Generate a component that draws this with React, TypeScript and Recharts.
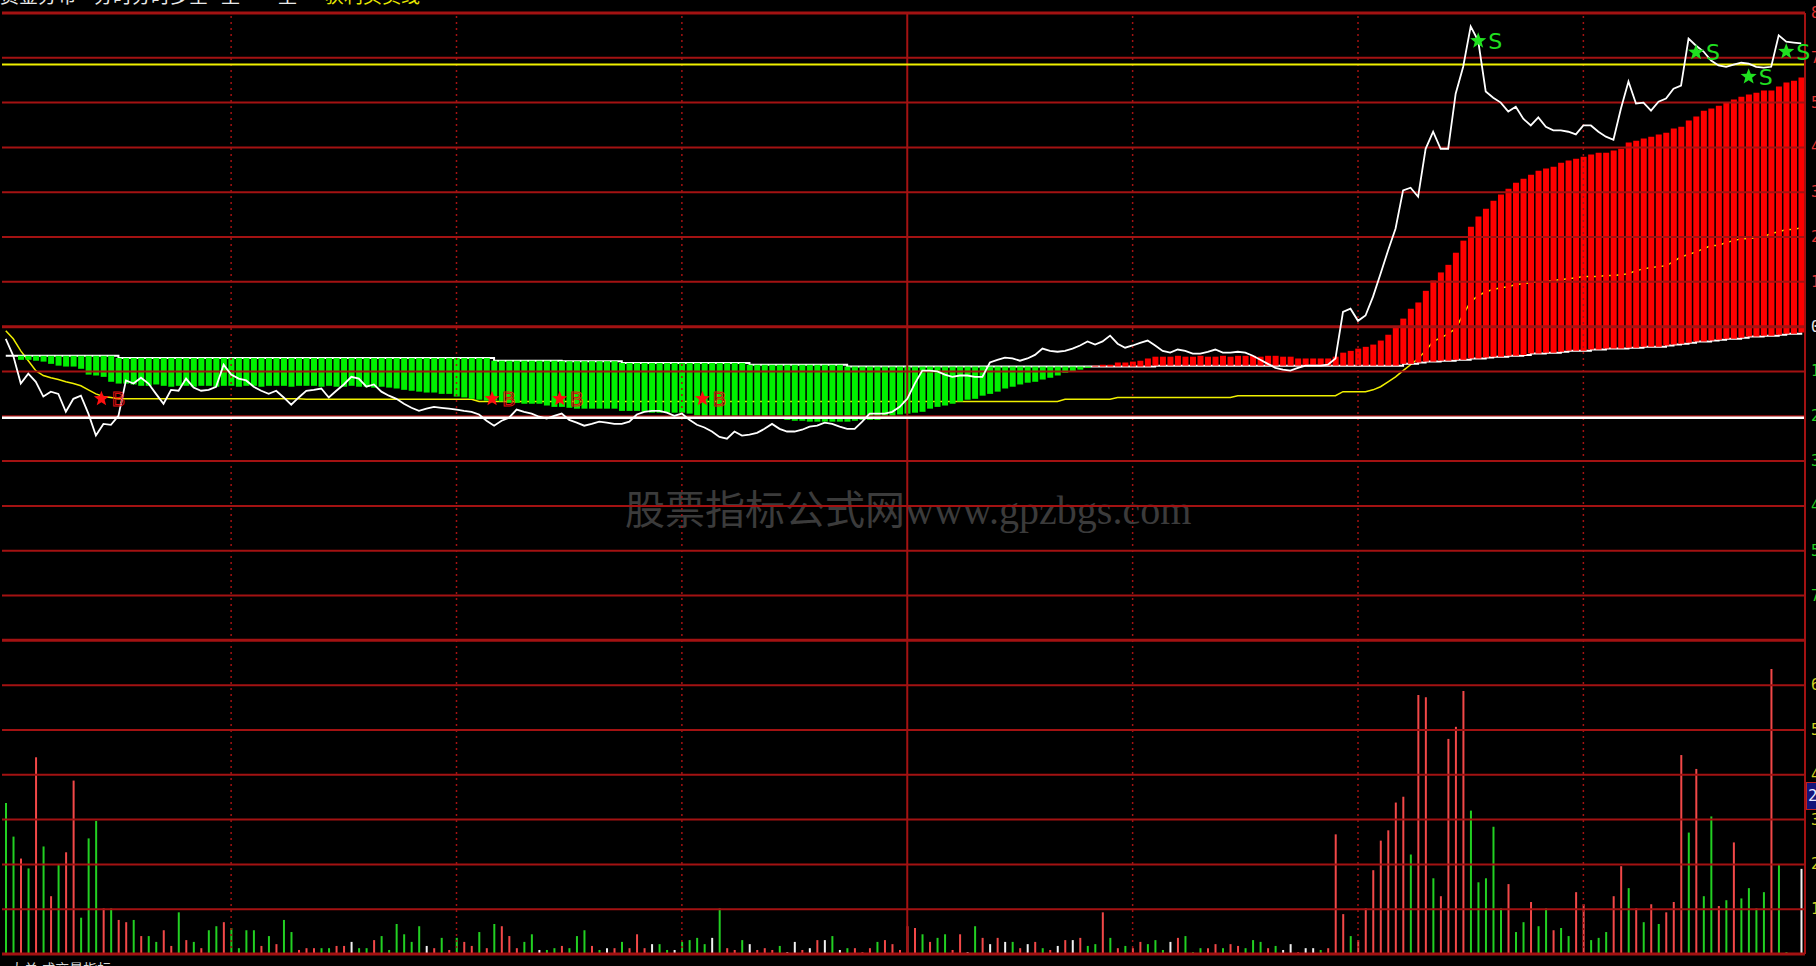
import React from "react";
import { ComposedChart, Bar, Line, XAxis, YAxis, ReferenceLine, Cell } from "recharts";

// minute-by-minute values, 240 minutes. price axis unit = one grid row, 0 = previous close
const price = [
  -0.27, -0.65, -1.27, -1.05, -1.23, -1.56, -1.45, -1.5, -1.9, -1.61,
  -1.54, -1.94, -2.43, -2.17, -2.19, -1.99, -1.2, -1.27, -1.14, -1.27,
  -1.5, -1.72, -1.41, -1.43, -1.16, -1.36, -1.43, -1.41, -1.34, -0.85,
  -1.07, -1.16, -1.2, -1.34, -1.43, -1.5, -1.43, -1.58, -1.74, -1.58,
  -1.43, -1.41, -1.38, -1.58, -1.43, -1.29, -1.12, -1.16, -1.34, -1.29,
  -1.45, -1.54, -1.61, -1.72, -1.81, -1.88, -1.83, -1.79, -1.81, -1.83,
  -1.85, -1.88, -1.9, -1.96, -2.1, -2.21, -2.1, -2.03, -1.85, -1.9,
  -1.94, -2.01, -2.05, -1.99, -1.94, -2.08, -2.14, -2.21, -2.17, -2.12,
  -2.14, -2.17, -2.17, -2.12, -1.96, -1.9, -1.88, -1.88, -1.92, -1.99,
  -1.94, -2.08, -2.19, -2.25, -2.34, -2.46, -2.5, -2.34, -2.43, -2.41,
  -2.37, -2.28, -2.17, -2.28, -2.34, -2.34, -2.3, -2.23, -2.21, -2.14,
  -2.17, -2.23, -2.28, -2.28, -2.12, -1.94, -1.94, -1.94, -1.9, -1.79,
  -1.61, -1.27, -0.98, -0.98, -1.0, -1.07, -1.12, -1.09, -1.09, -1.12,
  -1.12, -0.8, -0.74, -0.69, -0.71, -0.76, -0.71, -0.63, -0.49, -0.54,
  -0.56, -0.54, -0.49, -0.42, -0.33, -0.4, -0.33, -0.2, -0.38, -0.47,
  -0.42, -0.36, -0.31, -0.42, -0.54, -0.58, -0.51, -0.54, -0.6, -0.6,
  -0.56, -0.51, -0.58, -0.58, -0.56, -0.58, -0.65, -0.74, -0.83, -0.92,
  -0.96, -0.98, -0.92, -0.87, -0.87, -0.87, -0.85, -0.71, 0.33, 0.4,
  0.13, 0.25, 0.67, 1.18, 1.7, 2.19, 3.04, 3.1, 2.9, 3.97,
  4.35, 3.97, 3.97, 5.2, 5.8, 6.7, 6.38, 5.25, 5.11, 5.0,
  4.8, 4.91, 4.64, 4.49, 4.67, 4.46, 4.38, 4.38, 4.35, 4.29,
  4.49, 4.49, 4.35, 4.24, 4.17, 4.87, 5.47, 4.98, 5.0, 4.82,
  5.02, 5.09, 5.31, 5.38, 6.43, 6.27, 6.14, 5.94, 5.83, 5.8,
  5.85, 5.89, 5.87, 5.8, 5.78, 5.8, 6.5, 6.36, 6.34, 6.32,
];

const avgPrice = [
  -0.09, -0.27, -0.54, -0.76, -0.98, -1.09, -1.14, -1.18, -1.23, -1.27,
  -1.32, -1.41, -1.5, -1.56, -1.58, -1.61, -1.61, -1.61, -1.61, -1.61,
  -1.61, -1.61, -1.61, -1.61, -1.61, -1.61, -1.61, -1.61, -1.61, -1.61,
  -1.61, -1.61, -1.61, -1.61, -1.61, -1.61, -1.61, -1.61, -1.61, -1.61,
  -1.62, -1.62, -1.62, -1.62, -1.62, -1.62, -1.62, -1.62, -1.62, -1.62,
  -1.62, -1.62, -1.62, -1.62, -1.62, -1.62, -1.62, -1.62, -1.62, -1.62,
  -1.62, -1.62, -1.62, -1.67, -1.67, -1.67, -1.67, -1.67, -1.67, -1.67,
  -1.67, -1.67, -1.67, -1.67, -1.67, -1.67, -1.67, -1.67, -1.67, -1.67,
  -1.67, -1.67, -1.67, -1.67, -1.67, -1.67, -1.67, -1.67, -1.67, -1.67,
  -1.67, -1.67, -1.67, -1.67, -1.67, -1.67, -1.67, -1.67, -1.67, -1.67,
  -1.67, -1.67, -1.67, -1.67, -1.67, -1.67, -1.67, -1.67, -1.67, -1.67,
  -1.67, -1.67, -1.67, -1.67, -1.67, -1.67, -1.67, -1.67, -1.67, -1.67,
  -1.67, -1.67, -1.67, -1.67, -1.67, -1.67, -1.67, -1.67, -1.67, -1.67,
  -1.67, -1.67, -1.67, -1.67, -1.67, -1.67, -1.67, -1.67, -1.67, -1.67,
  -1.67, -1.62, -1.62, -1.62, -1.62, -1.62, -1.62, -1.62, -1.58, -1.58,
  -1.58, -1.58, -1.58, -1.58, -1.58, -1.58, -1.58, -1.58, -1.58, -1.58,
  -1.58, -1.58, -1.58, -1.58, -1.54, -1.54, -1.54, -1.54, -1.54, -1.54,
  -1.54, -1.54, -1.54, -1.54, -1.54, -1.54, -1.54, -1.54, -1.45, -1.45,
  -1.45, -1.45, -1.41, -1.34, -1.23, -1.12, -0.98, -0.85, -0.71, -0.54,
  -0.33, -0.25, -0.16, -0.04, 0.27, 0.56, 0.69, 0.78, 0.83, 0.87,
  0.89, 0.94, 0.96, 0.98, 1.0, 1.0, 1.03, 1.05, 1.07, 1.09,
  1.12, 1.12, 1.12, 1.14, 1.14, 1.16, 1.18, 1.25, 1.29, 1.32,
  1.34, 1.36, 1.45, 1.56, 1.61, 1.67, 1.74, 1.81, 1.81, 1.88,
  1.92, 1.96, 1.96, 1.99, 2.01, 2.08, 2.12, 2.17, 2.17, 2.21,
];

// long/short indicator: bars run from baseLine to signal
const baseLine = [
  -0.65, -0.65, -0.65, -0.65, -0.65, -0.65, -0.65, -0.65, -0.65, -0.65,
  -0.65, -0.65, -0.65, -0.65, -0.65, -0.7, -0.7, -0.7, -0.7, -0.7,
  -0.7, -0.7, -0.7, -0.7, -0.7, -0.7, -0.7, -0.7, -0.7, -0.7,
  -0.7, -0.7, -0.7, -0.7, -0.7, -0.7, -0.7, -0.7, -0.7, -0.7,
  -0.7, -0.7, -0.7, -0.7, -0.7, -0.7, -0.7, -0.7, -0.7, -0.7,
  -0.7, -0.7, -0.7, -0.7, -0.7, -0.7, -0.7, -0.7, -0.7, -0.7,
  -0.7, -0.7, -0.7, -0.7, -0.7, -0.76, -0.76, -0.76, -0.76, -0.76,
  -0.76, -0.76, -0.76, -0.76, -0.77, -0.77, -0.77, -0.77, -0.77, -0.77,
  -0.77, -0.77, -0.81, -0.81, -0.81, -0.81, -0.81, -0.81, -0.81, -0.81,
  -0.81, -0.81, -0.81, -0.81, -0.81, -0.81, -0.81, -0.81, -0.81, -0.85,
  -0.85, -0.85, -0.85, -0.85, -0.85, -0.85, -0.85, -0.85, -0.85, -0.85,
  -0.85, -0.85, -0.89, -0.89, -0.89, -0.89, -0.89, -0.89, -0.89, -0.89,
  -0.89, -0.89, -0.89, -0.89, -0.89, -0.89, -0.89, -0.89, -0.89, -0.89,
  -0.89, -0.89, -0.89, -0.89, -0.89, -0.89, -0.89, -0.89, -0.89, -0.89,
  -0.89, -0.89, -0.89, -0.89, -0.89, -0.89, -0.89, -0.89, -0.89, -0.89,
  -0.89, -0.89, -0.89, -0.87, -0.87, -0.87, -0.87, -0.87, -0.87, -0.87,
  -0.87, -0.87, -0.87, -0.87, -0.87, -0.87, -0.87, -0.87, -0.87, -0.87,
  -0.87, -0.87, -0.87, -0.87, -0.87, -0.87, -0.87, -0.87, -0.87, -0.87,
  -0.87, -0.87, -0.87, -0.87, -0.87, -0.87, -0.83, -0.83, -0.8, -0.78,
  -0.78, -0.76, -0.76, -0.74, -0.74, -0.71, -0.71, -0.69, -0.67, -0.67,
  -0.65, -0.65, -0.63, -0.6, -0.6, -0.58, -0.58, -0.56, -0.54, -0.54,
  -0.54, -0.51, -0.51, -0.49, -0.49, -0.49, -0.47, -0.47, -0.45, -0.45,
  -0.45, -0.42, -0.4, -0.38, -0.36, -0.33, -0.33, -0.31, -0.29, -0.27,
  -0.27, -0.25, -0.22, -0.22, -0.2, -0.2, -0.18, -0.16, -0.16, -0.13,
];

const signal = [
  -0.65, -0.65, -0.74, -0.74, -0.76, -0.78, -0.83, -0.87, -0.89, -0.89,
  -0.94, -1.07, -1.09, -1.12, -1.23, -1.27, -1.27, -1.29, -1.32, -1.32,
  -1.29, -1.32, -1.34, -1.32, -1.32, -1.34, -1.32, -1.32, -1.34, -1.32,
  -1.32, -1.34, -1.32, -1.32, -1.34, -1.32, -1.32, -1.32, -1.34, -1.32,
  -1.32, -1.32, -1.34, -1.32, -1.34, -1.34, -1.32, -1.34, -1.34, -1.36,
  -1.34, -1.36, -1.38, -1.41, -1.43, -1.45, -1.47, -1.47, -1.5, -1.5,
  -1.56, -1.58, -1.61, -1.63, -1.65, -1.65, -1.67, -1.7, -1.7, -1.72,
  -1.72, -1.72, -1.76, -1.79, -1.79, -1.81, -1.83, -1.83, -1.83, -1.83,
  -1.83, -1.83, -1.88, -1.88, -1.88, -1.9, -1.92, -1.92, -1.92, -1.92,
  -1.92, -1.94, -1.99, -1.99, -2.01, -2.01, -2.01, -2.03, -2.03, -2.05,
  -2.05, -2.05, -2.05, -2.05, -2.08, -2.1, -2.1, -2.12, -2.12, -2.12,
  -2.12, -2.12, -2.12, -2.1, -2.08, -2.08, -2.08, -2.05, -2.05, -1.96,
  -1.94, -1.92, -1.9, -1.83, -1.79, -1.76, -1.72, -1.67, -1.63, -1.61,
  -1.54, -1.5, -1.45, -1.38, -1.34, -1.29, -1.25, -1.23, -1.18, -1.14,
  -1.09, -1.03, -1.0, -0.96, -0.92, -0.87, -0.85, -0.85, -0.8, -0.8,
  -0.78, -0.76, -0.71, -0.67, -0.67, -0.67, -0.65, -0.67, -0.67, -0.65,
  -0.67, -0.67, -0.65, -0.67, -0.65, -0.65, -0.65, -0.67, -0.65, -0.65,
  -0.67, -0.67, -0.71, -0.71, -0.71, -0.71, -0.71, -0.67, -0.58, -0.54,
  -0.49, -0.45, -0.4, -0.31, -0.18, 0.0, 0.18, 0.4, 0.54, 0.8,
  1.03, 1.21, 1.38, 1.65, 1.92, 2.23, 2.46, 2.63, 2.81, 2.95,
  3.08, 3.21, 3.3, 3.39, 3.48, 3.53, 3.57, 3.66, 3.71, 3.75,
  3.79, 3.84, 3.88, 3.88, 3.93, 3.97, 4.11, 4.15, 4.2, 4.24,
  4.29, 4.33, 4.42, 4.46, 4.6, 4.69, 4.82, 4.87, 4.93, 5.0,
  5.07, 5.13, 5.18, 5.22, 5.27, 5.27, 5.36, 5.45, 5.49, 5.56,
];

// volume in grid rows of the lower panel, r = up, g = down, w = flat
const volume = [
  3.37, 2.62, 2.13, 1.91, 4.39, 2.4, 1.29, 2.0, 2.27, 3.87,
  0.81, 2.58, 2.97, 1.02, 1.02, 0.76, 0.71, 0.76, 0.4, 0.4,
  0.27, 0.53, 0.18, 0.93, 0.31, 0.27, 0.13, 0.53, 0.62, 0.71,
  0.58, 0.13, 0.53, 0.53, 0.18, 0.4, 0.22, 0.76, 0.49, 0.09,
  0.13, 0.13, 0.13, 0.13, 0.18, 0.18, 0.27, 0.13, 0.13, 0.31,
  0.4, 0.09, 0.67, 0.44, 0.27, 0.62, 0.18, 0.13, 0.36, 0.09,
  0.36, 0.27, 0.18, 0.49, 0.13, 0.67, 0.62, 0.4, 0.13, 0.27,
  0.44, 0.09, 0.09, 0.13, 0.18, 0.13, 0.4, 0.53, 0.18, 0.09,
  0.13, 0.13, 0.27, 0.13, 0.44, 0.13, 0.22, 0.22, 0.09, 0.09,
  0.27, 0.31, 0.36, 0.22, 0.36, 1.02, 0.13, 0.09, 0.31, 0.22,
  0.09, 0.13, 0.09, 0.18, 0.04, 0.27, 0.09, 0.13, 0.31, 0.31,
  0.4, 0.09, 0.13, 0.13, 0.04, 0.13, 0.27, 0.31, 0.22, 0.09,
  0.62, 0.58, 0.44, 0.27, 0.36, 0.44, 0.09, 0.44, 0.04, 0.62,
  0.36, 0.22, 0.36, 0.27, 0.27, 0.13, 0.22, 0.27, 0.13, 0.09,
  0.18, 0.31, 0.31, 0.36, 0.18, 0.22, 0.93, 0.36, 0.13, 0.18,
  0.13, 0.27, 0.22, 0.31, 0.09, 0.27, 0.36, 0.4, 0.04, 0.13,
  0.13, 0.22, 0.13, 0.22, 0.18, 0.13, 0.31, 0.27, 0.13, 0.18,
  0.09, 0.22, 0.04, 0.13, 0.13, 0.09, 0.13, 2.67, 0.89, 0.4,
  0.31, 1.02, 1.87, 2.53, 2.76, 3.38, 3.51, 2.22, 5.78, 5.73,
  1.69, 1.29, 4.8, 5.07, 5.87, 3.2, 1.6, 1.69, 2.84, 1.02,
  1.56, 0.49, 0.71, 1.16, 0.62, 1.02, 0.53, 0.58, 0.4, 1.38,
  1.11, 0.31, 0.36, 0.49, 1.29, 1.96, 1.47, 1.02, 0.71, 1.11,
  0.67, 0.93, 1.16, 4.44, 2.71, 4.13, 1.29, 3.07, 1.07, 1.2,
  2.49, 1.24, 1.47, 1.02, 1.38, 6.36, 2.0, 0.04, 0.02, 1.9,
];

const volSide = [
  "g", "g", "r", "g", "r", "g", "r", "g", "r", "r",
  "g", "g", "g", "r", "g", "r", "r", "g", "r", "g",
  "g", "r", "r", "g", "r", "g", "r", "g", "g", "r",
  "g", "g", "g", "g", "r", "g", "r", "g", "g", "r",
  "r", "r", "g", "g", "r", "r", "w", "g", "g", "r",
  "g", "g", "g", "g", "g", "g", "w", "r", "g", "r",
  "g", "r", "r", "g", "r", "g", "r", "r", "r", "g",
  "g", "w", "g", "g", "r", "g", "g", "g", "r", "g",
  "w", "r", "g", "r", "r", "r", "w", "g", "g", "w",
  "g", "g", "g", "g", "w", "g", "r", "r", "g", "w",
  "r", "r", "r", "g", "w", "w", "r", "w", "r", "w",
  "g", "w", "g", "r", "r", "r", "g", "r", "r", "r",
  "r", "r", "g", "r", "g", "g", "r", "r", "w", "g",
  "r", "w", "r", "w", "g", "r", "w", "r", "g", "r",
  "w", "r", "w", "r", "g", "g", "r", "g", "r", "g",
  "r", "r", "g", "g", "g", "w", "r", "g", "g", "g",
  "r", "r", "g", "r", "r", "g", "g", "g", "r", "g",
  "w", "w", "r", "w", "w", "g", "r", "r", "r", "g",
  "r", "r", "r", "r", "r", "r", "r", "g", "r", "r",
  "g", "r", "r", "r", "r", "g", "g", "g", "g", "g",
  "r", "g", "g", "r", "g", "g", "r", "g", "g", "r",
  "r", "g", "g", "g", "r", "r", "g", "r", "g", "r",
  "g", "r", "r", "r", "g", "r", "g", "g", "r", "g",
  "r", "g", "g", "g", "g", "r", "g", "g", "g", "w",
];

// buy / sell signals (minute index and level)
const buyMinutes = [13, 65, 74, 93];
const buyLevels = [-1.61, -1.61, -1.61, -1.61];
const sellMinutes = [196, 225, 232, 237];
const sellLevels = [6.38, 6.12, 5.58, 6.14];

const resistance = 5.85;
const support = -2.03;

// right axis labels (cut off by the window edge)
const priceTickLabels = ["8.34%", "7.15%", "5.96%", "4.77%", "3.58%", "2.38%", "1.19%", "0.00%", "1.19%", "2.38%", "3.58%", "4.77%", "5.96%", "7.15%", "8.34%"];
const volTickLabels = ["6935", "5944", "4954", "3963", "2972", "1981"];
const gridRows = [7, 6, 5, 4, 3, 2, 1, 0, -1, -2, -3, -4, -5, -6, -7, -8, -9, -10, -11, -12, -13, -14];
const timeMarks = [30, 60, 90, 150, 180, 210];

// title row, only the lower edge shows above the chart
const titleParts = [
  { text: "资金分布", left: 0, color: "#e8e8e8" },
  { text: "分时分时多空", left: 94, color: "#e8e8e8" },
  { text: "主", left: 221, color: "#e8e8e8" },
  { text: "主", left: 278, color: "#e8e8e8" },
  { text: "获利买卖线", left: 325, color: "#e8e800" },
];

const GRID = "#a31212";
const UP = "#ff0000";
const DOWN = "#00f000";
const VOL_COLORS: Record<string, string> = { r: "#f24848", g: "#22d022", w: "#f0f0f0" };

const rows = price.map((p, i) => ({
  i,
  price: p,
  avg: avgPrice[i],
  base: baseLine[i],
  hist: [Math.min(baseLine[i], signal[i]), Math.max(baseLine[i], signal[i])],
  up: signal[i] > baseLine[i],
  vol: volume[i],
  side: volSide[i],
  buy: buyMinutes.includes(i) ? buyLevels[buyMinutes.indexOf(i)] : null,
  sell: sellMinutes.includes(i) ? sellLevels[sellMinutes.indexOf(i)] : null,
}));

function star(cx: number, cy: number, r: number) {
  const pts: string[] = [];
  for (let k = 0; k < 10; k++) {
    const rad = k % 2 === 0 ? r : r * 0.42;
    const a = -Math.PI / 2 + (k * Math.PI) / 5;
    pts.push(`${cx + rad * Math.cos(a)},${cy + rad * Math.sin(a)}`);
  }
  return pts.join(" ");
}

const renderBuy = (p: any) => {
  const { cx, cy, value, index } = p;
  if (value == null || cy == null || isNaN(cy)) return <g key={`b${index}`} />;
  return (
    <g key={`b${index}`}>
      <polygon points={star(cx - 2, cy, 8)} fill="#ff1010" />
      <text x={cx + 8} y={cy + 7} fontSize={20} fill="none" stroke="#e01010" strokeWidth={1} fontFamily="DejaVu Sans">B</text>
    </g>
  );
};

const renderSell = (p: any) => {
  const { cx, cy, value, index } = p;
  if (value == null || cy == null || isNaN(cy)) return <g key={`s${index}`} />;
  return (
    <g key={`s${index}`}>
      <polygon points={star(cx, cy, 8.5)} fill="#20e020" />
      <text x={cx + 10} y={cy + 8} fontSize={22} fill="#20e020" fontFamily="DejaVu Sans">S</text>
    </g>
  );
};

const renderTick = (props: any) => {
  const { x, y, payload } = props;
  const v = payload.value;
  let label = "";
  let color = "#d0d020";
  if (v > -7) {
    label = priceTickLabels[7 - v];
    color = v > 0 ? "#e03030" : v === 0 ? "#e8e8e8" : "#20d020";
  } else if (v < -7 && v > -14) {
    label = volTickLabels[-8 - v];
  }
  return (
    <text x={x} y={y} dy={5} fill={color} fontSize={15} fontFamily="DejaVu Sans Mono">
      {label}
    </text>
  );
};

export default function App() {
  return (
    <div style={{ position: "absolute", left: 0, top: 0, width: 1816, height: 966, background: "#000", overflow: "hidden" }}>
      <div
        style={{
          position: "absolute",
          left: 625,
          top: 478,
          fontSize: 40,
          color: "#3b3b3b",
          fontFamily: "'Liberation Serif', 'Noto Sans CJK SC', serif",
          whiteSpace: "nowrap",
        }}
      >
        股票指标公式网www.gpzbgs.com
      </div>
      <div style={{ position: "absolute", left: 0, top: 0 }}>
        <ComposedChart width={1816} height={966} data={rows} margin={{ top: 13, right: 0, bottom: 12, left: 2 }}>
          <XAxis xAxisId="p" dataKey="i" type="category" hide />
          <XAxis xAxisId="v" dataKey="i" type="category" hide />
          <YAxis
            yAxisId="p"
            orientation="right"
            width={11}
            type="number"
            domain={[-14, 7]}
            allowDataOverflow
            ticks={gridRows}
            interval={0}
            tick={renderTick}
            tickLine={false}
            tickSize={0}
            tickMargin={6}
            axisLine={{ stroke: GRID, strokeWidth: 2 }}
          />
          <YAxis yAxisId="v" hide type="number" domain={[0, 21]} allowDataOverflow />

          <Line xAxisId="p" yAxisId="p" dataKey="avg" stroke="#f0f000" strokeWidth={1.5} dot={false} activeDot={false} isAnimationActive={false} zIndex={250} />
          <Line xAxisId="p" yAxisId="p" dataKey="base" type="stepAfter" stroke="#ffffff" strokeWidth={2} dot={false} activeDot={false} isAnimationActive={false} zIndex={260} />
          <Bar xAxisId="p" yAxisId="p" dataKey="hist" barSize={6} isAnimationActive={false} zIndex={300}>
            {rows.map((r) => (
              <Cell key={r.i} fill={r.up ? UP : DOWN} />
            ))}
          </Bar>
          <Bar xAxisId="v" yAxisId="v" dataKey="vol" barSize={2} isAnimationActive={false} zIndex={300}>
            {rows.map((r) => (
              <Cell key={r.i} fill={VOL_COLORS[r.side]} />
            ))}
          </Bar>

          {gridRows.map((g) => (
            <ReferenceLine
              key={g}
              xAxisId="p"
              yAxisId="p"
              y={g}
              stroke={GRID}
              strokeWidth={g === 0 || g === 7 || g === -7 || g === -14 ? 3 : 2}
              zIndex={350}
            />
          ))}
          {timeMarks.map((t) => (
            <ReferenceLine key={t} xAxisId="p" yAxisId="p" x={t} stroke={GRID} strokeWidth={1.5} strokeDasharray="2 4" zIndex={350} />
          ))}
          <ReferenceLine xAxisId="p" yAxisId="p" x={120} stroke={GRID} strokeWidth={2} zIndex={350} />
          <ReferenceLine xAxisId="p" yAxisId="p" y={resistance} stroke="#f0f000" strokeWidth={2} zIndex={380} />
          <ReferenceLine xAxisId="p" yAxisId="p" y={support} stroke="#ffffff" strokeWidth={2.5} zIndex={380} />

          <Line xAxisId="p" yAxisId="p" dataKey="price" stroke="#ffffff" strokeWidth={1.8} dot={false} activeDot={false} isAnimationActive={false} zIndex={450} />
          <Line xAxisId="p" yAxisId="p" dataKey="buy" stroke="none" dot={renderBuy} activeDot={false} isAnimationActive={false} zIndex={700} />
          <Line xAxisId="p" yAxisId="p" dataKey="sell" stroke="none" dot={renderSell} activeDot={false} isAnimationActive={false} zIndex={700} />
        </ComposedChart>
      </div>
      {titleParts.map((t) => (
        <div
          key={t.left}
          style={{
            position: "absolute",
            left: t.left,
            top: -19,
            fontSize: 19,
            color: t.color,
            whiteSpace: "nowrap",
            fontFamily: "'Noto Sans CJK SC', sans-serif",
          }}
        >
          {t.text}
        </div>
      ))}
      <div style={{ position: "absolute", left: 10, top: 958, fontSize: 14, color: "#d8d8d8", whiteSpace: "nowrap", fontFamily: "'Noto Sans CJK SC', sans-serif" }}>
        大单 成交量指标
      </div>
      <div
        style={{
          position: "absolute",
          left: 1806,
          top: 782,
          width: 14,
          height: 26,
          background: "#14147a",
          border: "1px solid #c02020",
          color: "#e8e8ff",
          fontSize: 16,
          lineHeight: "26px",
          fontFamily: "DejaVu Sans Mono",
          paddingLeft: 1,
        }}
      >
        2
      </div>
    </div>
  );
}
